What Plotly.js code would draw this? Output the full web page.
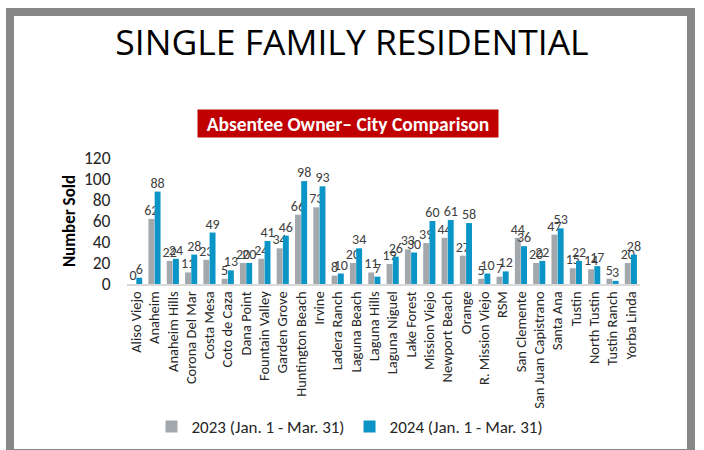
<!DOCTYPE html>
<html>
<head>
<meta charset="utf-8">
<script src="https://cdn.plot.ly/plotly-3.0.1.min.js"></script>
<style>
html,body{margin:0;padding:0;background:#fff;}
#chart{width:704px;height:450px;}
</style>
</head>
<body>
<div id="chart"></div>
<script>
const cities = ["Aliso Viejo","Anaheim","Anaheim Hills","Corona Del Mar","Costa Mesa","Coto de Caza","Dana Point","Fountain Valley","Garden Grove","Huntington Beach","Irvine","Ladera Ranch","Laguna Beach","Laguna Hills","Laguna Niguel","Lake Forest","Mission Viejo","Newport Beach","Orange","R. Mission Viejo","RSM","San Clemente","San Juan Capistrano","Santa Ana","Tustin","North Tustin","Tustin Ranch","Yorba Linda"];
const sold2023 = [0,62,22,11,23,5,20,24,34,66,73,8,20,11,19,33,39,44,27,5,7,44,20,47,15,14,5,20];
const sold2024 = [6,88,24,28,49,13,20,41,46,98,93,10,34,7,26,30,60,61,58,10,12,36,22,53,22,17,3,28];
const yTicks = [0,20,40,60,80,100,120];
const name2023 = "2023 (Jan. 1 - Mar. 31)";
const name2024 = "2024 (Jan. 1 - Mar. 31)";
const mainTitle = "SINGLE FAMILY RESIDENTIAL";
const subTitle = "Absentee Owner\u2013 City Comparison";
const yTitle = "Number Sold";

const W = 704, H = 450;
const ml = 127, mr = 64, mt = 158, mb = 166;
const pw = W - ml - mr, ph = H - mt - mb;
const px2x = p => (p - ml) / pw;
const px2y = p => (H - mb - p) / ph;

const font = "Carlito, Lato, 'Open Sans', sans-serif";
const labelFont = {family: font, size: 14, color: '#404040'};

const traces = [
  {type:'bar', name:name2023, x:cities, y:sold2023, marker:{color:'#A3A8AD'},
   text:sold2023.map(String), textposition:'outside', textangle:0, constraintext:'none',
   cliponaxis:false, textfont:labelFont, hoverinfo:'x+y'},
  {type:'bar', name:name2024, x:cities, y:sold2024, marker:{color:'#0A95C6'},
   text:sold2024.map(String), textposition:'outside', textangle:0, constraintext:'none',
   cliponaxis:false, textfont:labelFont, hoverinfo:'x+y'}
];

const layout = {
  width: W, height: H,
  margin: {l: ml, r: mr, t: mt, b: mb},
  paper_bgcolor: '#fff', plot_bgcolor: '#fff',
  font: {family: font, color: '#262626'},
  barmode: 'group', bargap: 0.32, bargroupgap: 0.05,
  title: {text: mainTitle, x: 0.5, xref: 'container', xanchor: 'center',
          y: 1 - 43/H, yref: 'container', yanchor: 'middle',
          font: {family: "'Open Sans', sans-serif", size: 35.5, color: '#000'}},
  xaxis: {type:'category', tickangle: -90, showgrid:false, zeroline:false,
          showline:true, linecolor:'#D9D9D9', linewidth:1.5, ticks:'',
          tickfont:{family: font, size: 14.5, color:'#262626'}, automargin:false},
  yaxis: {range:[0,120], tickvals: yTicks, showgrid:false, zeroline:false, showline:false,
          ticks:'outside', ticklen:12, tickcolor:'rgba(0,0,0,0)',
          tickfont:{family: font, size: 17.5, color:'#262626'},
          title:{text: yTitle, standoff: 3, font:{family: font, size: 17, color:'#000', weight: 'bold'}},
          automargin:false},
  showlegend: true,
  legend: {orientation:'h', xref:'container', yref:'container', x: 350/W, xanchor:'center',
           y: 1 - 427/H, yanchor:'middle', font:{family: font, size: 17, color:'#262626'},
           itemwidth: 30, traceorder:'normal'},
  annotations: [
    {text: '<b>' + subTitle + '</b>', xref:'paper', yref:'paper', x: px2x(348), y: px2y(123.5),
     xanchor:'center', yanchor:'middle', showarrow:false, bgcolor:'#C00000',
     width: 298, height: 25, borderpad: 1,
     font:{family: font, size: 19.5, color:'#fff'}}
  ],
  shapes: [
    {type:'rect', xref:'paper', yref:'paper', x0: px2x(10), x1: px2x(691), y0: px2y(12), y1: px2y(453),
     line:{color:'#878787', width:8}, fillcolor:'rgba(0,0,0,0)', layer:'above'}
  ]
};

Plotly.newPlot('chart', traces, layout, {displayModeBar:false, staticPlot:true});
</script>
</body>
</html>
